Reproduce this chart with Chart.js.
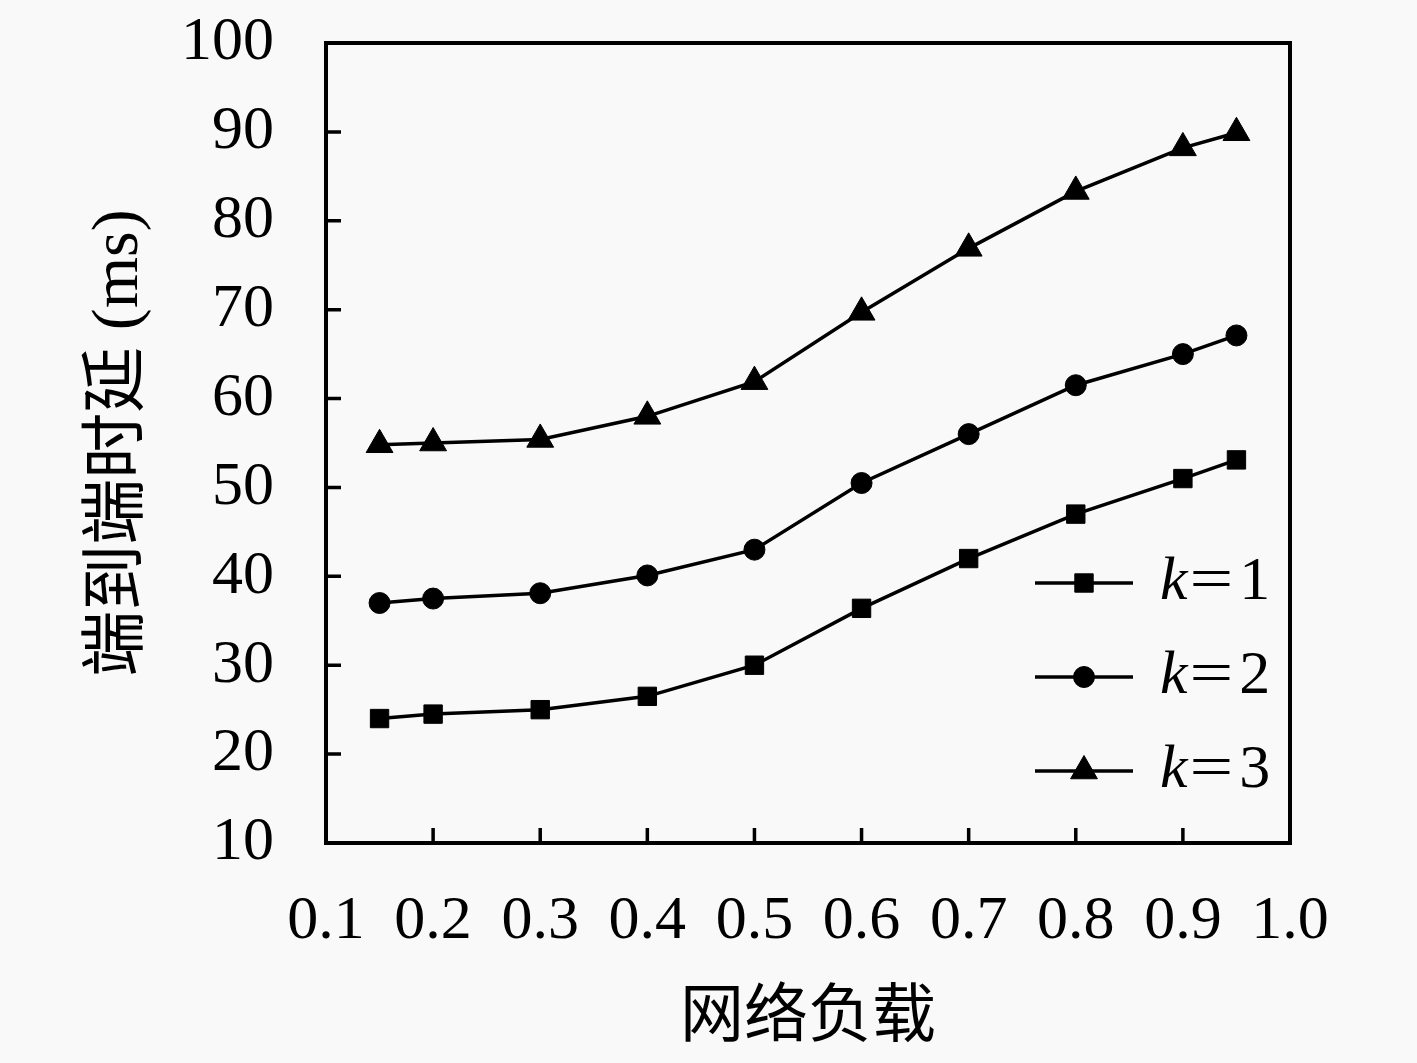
<!DOCTYPE html>
<html>
<head>
<meta charset="utf-8">
<script src="https://cdn.jsdelivr.net/npm/chart.js@4.4.1/dist/chart.umd.min.js"></script>
<style>
  html, body { margin: 0; padding: 0; background: #f9f9f9; }
  #c { display: block; }
</style>
</head>
<body>
<canvas id="c" width="1417" height="1063"></canvas>
<script>
// ---- data ----
const loads = [0.15, 0.2, 0.3, 0.4, 0.5, 0.6, 0.7, 0.8, 0.9, 0.95];
const delayK1 = [24.0, 24.5, 25.0, 26.5, 30.0, 36.4, 42.0, 47.0, 51.0, 53.1];
const delayK2 = [37.0, 37.5, 38.1, 40.1, 43.0, 50.5, 56.0, 61.5, 65.0, 67.1];
const delayK3 = [54.8, 55.0, 55.4, 58.0, 61.9, 69.7, 76.9, 83.3, 88.2, 89.9];
const seriesLabels = ['k=1', 'k=2', 'k=3'];
const xTitle = '网络负载';
const yTitle = '端到端时延 (ms)';

const toPts = arr => arr.map((v, i) => ({ x: loads[i], y: v }));

const SERIF = '"Liberation Serif", "Noto Sans CJK SC", serif';

const framePlugin = {
  id: 'frame',
  afterDatasetsDraw(chart) {
    const { ctx, chartArea: a, scales: { x, y } } = chart;
    ctx.save();
    ctx.strokeStyle = '#000';
    ctx.lineWidth = 4;
    ctx.lineCap = 'square';
    ctx.strokeRect(a.left, a.top, a.right - a.left, a.bottom - a.top);
    ctx.lineCap = 'butt';
    ctx.lineWidth = 3.5;
    const tl = 15;
    ctx.beginPath();
    x.ticks.forEach(t => {
      const px = x.getPixelForValue(t.value);
      if (px <= a.left + 2 || px >= a.right - 2) return;
      ctx.moveTo(px, a.bottom);
      ctx.lineTo(px, a.bottom - tl);
    });
    y.ticks.forEach(t => {
      const py = y.getPixelForValue(t.value);
      if (py <= a.top + 2 || py >= a.bottom - 2) return;
      ctx.moveTo(a.left, py);
      ctx.lineTo(a.left + tl, py);
    });
    ctx.stroke();
    ctx.restore();
  }
};

const legendPlugin = {
  id: 'innerLegend',
  afterDraw(chart) {
    const { ctx, chartArea: a } = chart;
    const rowsFromBottom = [260, 166, 72];
    ctx.save();
    chart.data.datasets.forEach((ds, i) => {
      const yy = a.bottom - rowsFromBottom[i];
      const x0 = a.right - 255, x1 = a.right - 157;
      ctx.strokeStyle = ds.borderColor;
      ctx.lineWidth = ds.borderWidth;
      ctx.beginPath();
      ctx.moveTo(x0, yy);
      ctx.lineTo(x1, yy);
      ctx.stroke();
      ctx.fillStyle = ds.pointBackgroundColor;
      ctx.strokeStyle = ds.pointBorderColor;
      ctx.lineWidth = 1;
      Chart.helpers.drawPoint(ctx, {
        pointStyle: ds.pointStyle,
        radius: ds.pointRadius,
        rotation: 0,
        borderWidth: 1
      }, (x0 + x1) / 2, yy);
      // label: italic first letter, then the rest upright
      const lbl = ds.label;
      let tx = a.right - 130;
      ctx.fillStyle = '#000';
      ctx.textBaseline = 'middle';
      ctx.textAlign = 'left';
      ctx.font = 'italic 62px "Liberation Serif", serif';
      ctx.fillText(lbl[0], tx, yy);
      tx += ctx.measureText(lbl[0]).width + 2;
      ctx.font = '62px "Liberation Serif", serif';
      const eq = lbl[1];
      ctx.save();
      ctx.translate(tx, yy);
      ctx.scale(1.25, 1);
      ctx.fillText(eq, 0, 0);
      ctx.restore();
      tx += ctx.measureText(eq).width * 1.25 + 6;
      ctx.fillText(lbl.slice(2), tx, yy);
    });
    ctx.restore();
  }
};

const mk = (label, data, style, r) => ({
  label,
  data: toPts(data),
  borderColor: '#000',
  borderWidth: 3.5,
  pointStyle: style,
  pointRadius: r,
  pointHoverRadius: r,
  pointBackgroundColor: '#000',
  pointBorderColor: '#000',
  pointBorderWidth: 1,
  tension: 0,
  fill: false
});

new Chart(document.getElementById('c'), {
  type: 'line',
  data: {
    datasets: [
      mk(seriesLabels[0], delayK1, 'rect', 13),
      mk(seriesLabels[1], delayK2, 'circle', 10.5),
      mk(seriesLabels[2], delayK3, 'triangle', 15.5)
    ]
  },
  options: {
    responsive: false,
    devicePixelRatio: 1,
    animation: false,
    layout: { padding: { top: 43, right: 127, left: 0, bottom: 0 } },
    plugins: { legend: { display: false }, tooltip: { enabled: false } },
    scales: {
      x: {
        type: 'linear',
        min: 0.1,
        max: 1.0,
        grid: { display: false, drawTicks: false },
        border: { display: false },
        ticks: {
          stepSize: 0.1,
          padding: 42,
          color: '#000',
          maxRotation: 0,
          autoSkip: false,
          font: { family: SERIF, size: 62 },
          callback: v => Number(v).toFixed(1)
        },
        title: {
          display: true,
          text: xTitle,
          color: '#000',
          font: { family: SERIF, size: 64 },
          padding: { top: 0, bottom: 5 }
        },
        afterFit: s => { s.height = 220; s.paddingLeft = 0; s.paddingRight = 0; }
      },
      y: {
        type: 'linear',
        min: 10,
        max: 100,
        grid: { display: false, drawTicks: false },
        border: { display: false },
        ticks: {
          stepSize: 10,
          padding: 52,
          color: '#000',
          font: { family: SERIF, size: 62 }
        },
        title: {
          display: true,
          text: yTitle,
          color: '#000',
          font: { family: SERIF, size: 66 },
          padding: { top: 80, bottom: 0 }
        },
        afterFit: s => { s.width = 326; s.paddingTop = 0; s.paddingBottom = 0; }
      }
    }
  },
  plugins: [framePlugin, legendPlugin]
});
</script>
</body>
</html>
